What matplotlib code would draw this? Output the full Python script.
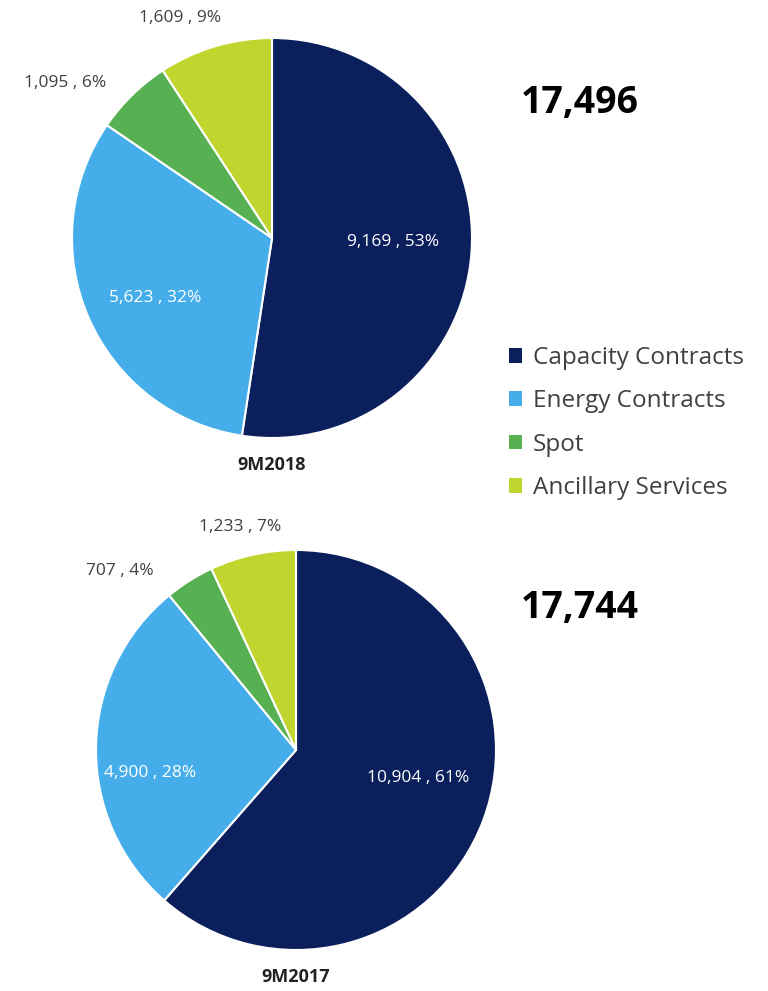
import matplotlib
matplotlib.use("Agg")
import matplotlib.pyplot as plt
from matplotlib.patches import Patch

plt.rcParams['font.family'] = ['Open Sans', 'DejaVu Sans']

# data
categories = ["Capacity Contracts", "Energy Contracts", "Spot", "Ancillary Services"]
values_2018 = [9169, 5623, 1095, 1609]
values_2017 = [10904, 4900, 707, 1233]
pct_2018 = [53, 32, 6, 9]
pct_2017 = [61, 28, 4, 7]
totals = ["17,496", "17,744"]
periods = ["9M2018", "9M2017"]

colors = ["#0b1f5c", "#45aeea", "#57b052", "#c0d62f"]
text_colors = ["white", "white", "#404040", "#404040"]

# label positions in pie units (radius = 1)
pos_2018 = [(0.605, -0.02), (-0.585, -0.30), (-1.035, 0.775), (-0.46, 1.10)]
pos_2017 = [(0.61, -0.14), (-0.73, -0.115), (-0.88, 0.895), (-0.28, 1.115)]

fig = plt.figure(figsize=(7.68, 9.91), dpi=100)
W, H = 768, 991


def draw_pie(cx, cy, r, vals, pcts, pos, period, total, tot_xy):
    ax = fig.add_axes([(cx - r) / W, 1 - (cy + r) / H, 2 * r / W, 2 * r / H])
    ax.pie(vals, colors=colors, startangle=90, counterclock=False, radius=1,
           wedgeprops=dict(edgecolor="white", linewidth=1.5))
    ax.set_xlim(-1, 1)
    ax.set_ylim(-1, 1)
    ax.set_aspect("equal")
    ax.axis("off")
    for v, p, (x, y), tc in zip(vals, pcts, pos, text_colors):
        ax.text(x, y, f"{v:,} , {p}%", ha="center", va="center",
                fontsize=12.5, color=tc, clip_on=False)
    fig.text(cx / W, 1 - (cy + r + 27) / H, period, ha="center", va="center",
             fontsize=13, fontweight="bold", color="#222222")
    fig.text(tot_xy[0] / W, 1 - tot_xy[1] / H, total, ha="center", va="center",
             fontsize=27, fontweight="bold", color="black")


draw_pie(272, 238, 200, values_2018, pct_2018, pos_2018, periods[0], totals[0], (580, 103))
draw_pie(296, 750, 200, values_2017, pct_2017, pos_2017, periods[1], totals[1], (580, 608))

handles = [Patch(facecolor=c, edgecolor="none") for c in colors]
leg = fig.legend(handles, categories, loc="center left",
                 bbox_to_anchor=(487 / W, 1 - 423 / H), frameon=False,
                 fontsize=17.5, handlelength=0.55, handleheight=0.55,
                 handletextpad=0.45, labelspacing=0.8)
for t in leg.get_texts():
    t.set_color("#404040")

fig.savefig("out.png", dpi=100)
